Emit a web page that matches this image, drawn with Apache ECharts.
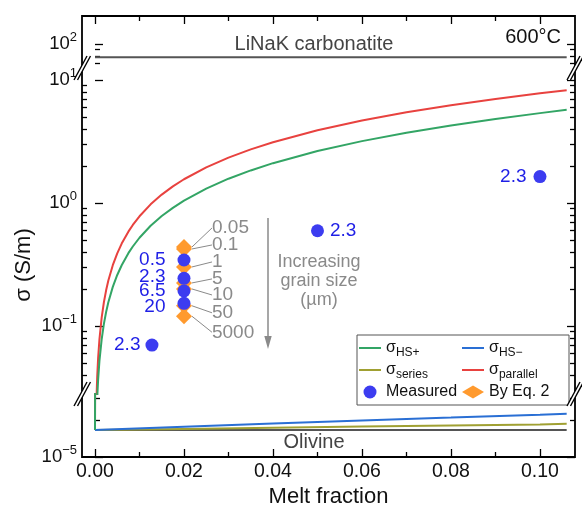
<!DOCTYPE html>
<html><head><meta charset="utf-8">
<script src="https://cdn.jsdelivr.net/npm/echarts@6/dist/echarts.min.js"></script>
<style>html,body{margin:0;padding:0;background:#fff}#c{width:582px;height:510px}</style>
</head><body><div id="c"></div>
<script>
// ---------------- data ----------------
const meltFraction   = [0, 0.0002, 0.0003, 0.0005, 0.0007, 0.001, 0.0015, 0.002, 0.0025, 0.003, 0.004, 0.005, 0.006, 0.0075, 0.0085, 0.01, 0.0125, 0.015, 0.0175, 0.02, 0.025, 0.03, 0.035, 0.04, 0.05, 0.06, 0.07, 0.08, 0.09, 0.10, 0.106];
const sigmaParallel  = [1.66e-5, 0.0156, 0.0234, 0.039, 0.0546, 0.078, 0.117, 0.156, 0.195, 0.234, 0.312, 0.39, 0.468, 0.585, 0.663, 0.78, 0.975, 1.17, 1.365, 1.56, 1.95, 2.34, 2.73, 3.12, 3.90, 4.68, 5.46, 6.24, 7.02, 7.80, 8.27];
const sigmaHSplus    = [1.66e-5, 0.0104, 0.0156, 0.026, 0.0364, 0.052, 0.078, 0.104, 0.130, 0.156, 0.208, 0.260, 0.312, 0.391, 0.443, 0.522, 0.653, 0.784, 0.913, 1.047, 1.31, 1.576, 1.84, 2.108, 2.644, 3.184, 3.727, 4.274, 4.825, 5.38, 5.72];
const meltFractionLow = [0, 0.02, 0.04, 0.06, 0.08, 0.10, 0.106];
const sigmaHSminus   = [1.66e-5, 1.76e-5, 1.87e-5, 1.98e-5, 2.09e-5, 2.21e-5, 2.25e-5];
const sigmaSeries    = [1.66e-5, 1.69e-5, 1.73e-5, 1.77e-5, 1.80e-5, 1.84e-5, 1.86e-5];
const refLineX       = [0, 0.106];
const sigmaOlivine   = [1.66e-5, 1.66e-5];
const sigmaCarbonatite = [78, 78];
const measuredX      = [0.0128, 0.02, 0.02, 0.02, 0.02, 0.05, 0.10];
const measuredSigma  = [0.070, 0.344, 0.244, 0.193, 0.153, 0.595, 1.64];
const measuredLabels = ['2.3', '0.5', '2.3', '6.5', '20', '2.3', '2.3'];
const eq2X           = [0.02, 0.02, 0.02, 0.02, 0.02, 0.02, 0.02];
const eq2Sigma       = [0.439, 0.423, 0.302, 0.224, 0.200, 0.146, 0.120];
const eq2Labels      = ['0.05', '0.1', '1', '5', '10', '50', '5000'];
const xTickValues    = [0, 0.02, 0.04, 0.06, 0.08, 0.10];
const xMinorValues   = [0.01, 0.03, 0.05, 0.07, 0.09];
const legendNames    = ['σHS+', 'σHS−', 'σseries', 'σparallel', 'Measured', 'By Eq. 2'];

// ---------------- styling / layout ----------------
const FONT = '"Liberation Sans", Arial, sans-serif';
const L = v => Math.log10(v);
const X_MIN = -0.00292, X_MAX = 0.10787;
const C = {hsp:'#33a565', hsm:'#2a6fd4', ser:'#a0a032', par:'#e8423f', dot:'#3c3cf0', dotText:'#1f1fe6', dia:'#ff9a2e', ref:'#555555', ann:'#8a8a8a'};
const measuredLabelPos = ['left', 'left', 'left', 'left', 'left', 'right', 'left'];
const measuredLabelGap = [5, 12, 12, 12, 12, 6, 7];
const measuredLabelDy  = [0, 0, -2, 0, 3, 0, 0];
const eq2LabelDy = [-19, -4, -5, -4, 6, 7, 16];

const gridBase = {left: 82, right: 7, outerBoundsMode: 'none', containLabel: false};
const grids = [
  Object.assign({}, gridBase, {top: 16, height: 52}),
  Object.assign({}, gridBase, {top: 68, height: 326}),
  Object.assign({}, gridBase, {top: 394, height: 63}),
  Object.assign({}, gridBase, {top: 16, height: 441, show: true, borderColor: '#000', borderWidth: 1.8, backgroundColor: 'rgba(0,0,0,0)', z: 5})
];
const yRanges = [[1.8049, 2.2276], [-1.5528, 1.0976], [-5, -4.4878]];
const inRange = (v, r) => v >= r[0] - 1e-9 && v <= r[1] + 1e-9;
const majorExp = [[2], [1, 0, -1], [-5]];
const minorVals = yRanges.map((r, g) => {
  const out = [];
  for (let e = -6; e <= 2; e++) for (let k = 2; k <= 9; k++) {
    const v = Math.log10(k) + e;
    if (inRange(v, r) && !(g === 1 && v < Math.log10(0.04) - 1e-9)) out.push(v);
  }
  return out;
});
const tickLine = {color: '#000', width: 1.3};
const supFmt = v => { const e = Math.round(v); return '{b|10}{s|' + (e < 0 ? '\u2212' + (-e) : e) + '}'; };

const yAxes = [];
for (let g = 0; g < 3; g++) {
  const base = {gridIndex: g, type: 'value', min: yRanges[g][0], max: yRanges[g][1], axisLine: {show: false}, splitLine: {show: false}};
  yAxes.push(Object.assign({}, base, {position: 'left',
    axisTick: {show: true, inside: true, length: 8, customValues: majorExp[g], lineStyle: tickLine},
    axisLabel: {show: true, customValues: majorExp[g], formatter: supFmt, margin: 5,
      rich: {b: {fontSize: 18.5, fontFamily: FONT, color: '#111', lineHeight: 26},
             s: {fontSize: 13, fontFamily: FONT, color: '#111', lineHeight: 14, verticalAlign: 'top'}}}}));
  yAxes.push(Object.assign({}, base, {position: 'left',
    axisTick: {show: true, inside: true, length: 5, customValues: minorVals[g], lineStyle: tickLine}, axisLabel: {show: false}}));
  yAxes.push(Object.assign({}, base, {position: 'right',
    axisTick: {show: true, inside: true, length: 8, customValues: majorExp[g], lineStyle: tickLine}, axisLabel: {show: false}}));
  yAxes.push(Object.assign({}, base, {position: 'right',
    axisTick: {show: true, inside: true, length: 5, customValues: minorVals[g], lineStyle: tickLine}, axisLabel: {show: false}}));
}
yAxes.push({gridIndex: 3, type: 'value', show: false, min: 0, max: 1});

const xBase = {type: 'value', min: X_MIN, max: X_MAX, axisLine: {show: false}, splitLine: {show: false}};
const xAxes = [
  Object.assign({}, xBase, {gridIndex: 0, position: 'top', axisTick: {show: true, inside: true, length: 8, customValues: xTickValues, lineStyle: tickLine}, axisLabel: {show: false}}),
  Object.assign({}, xBase, {gridIndex: 0, position: 'top', axisTick: {show: true, inside: true, length: 5, customValues: xMinorValues, lineStyle: tickLine}, axisLabel: {show: false}}),
  Object.assign({}, xBase, {gridIndex: 1, show: false}),
  Object.assign({}, xBase, {gridIndex: 2, position: 'bottom',
    axisTick: {show: true, inside: true, length: 8, customValues: xTickValues, lineStyle: tickLine},
    axisLabel: {show: true, customValues: xTickValues, formatter: v => v.toFixed(2), margin: 5, fontSize: 19.5, fontFamily: FONT, color: '#111'},
    name: 'Melt fraction', nameLocation: 'middle', nameGap: 29, nameTextStyle: {fontSize: 22, fontFamily: FONT, color: '#111'}}),
  Object.assign({}, xBase, {gridIndex: 2, position: 'bottom', axisTick: {show: true, inside: true, length: 5, customValues: xMinorValues, lineStyle: tickLine}, axisLabel: {show: false}}),
  Object.assign({}, xBase, {gridIndex: 3, show: false})
];
const xIdx = [0, 2, 3];
const yIdx = g => g * 4;

const pairs = (xs, ys) => xs.map((x, i) => [x, L(ys[i])]);
function lineSeries(name, g, xs, ys, color, z) {
  return {name, type: 'line', xAxisIndex: xIdx[g], yAxisIndex: yIdx(g), data: pairs(xs, ys),
    symbol: 'none', showSymbol: false, clip: true, z: z || 2, lineStyle: {color, width: 2}, itemStyle: {color}, animation: false};
}
const series = [
  lineSeries('Olivine', 2, refLineX, sigmaOlivine, C.ref),
  lineSeries('σseries', 2, meltFractionLow, sigmaSeries, C.ser),
  lineSeries('σHS−', 2, meltFractionLow, sigmaHSminus, C.hsm),
  lineSeries('σparallel', 2, meltFraction, sigmaParallel, C.par),
  lineSeries('σHS+', 2, meltFraction, sigmaHSplus, C.hsp, 3),
  lineSeries('σparallel', 1, meltFraction, sigmaParallel, C.par),
  lineSeries('σHS+', 1, meltFraction, sigmaHSplus, C.hsp, 3),
  lineSeries('LiNaK', 0, refLineX, sigmaCarbonatite, C.ref),
  {name: 'By Eq. 2', type: 'scatter', xAxisIndex: 2, yAxisIndex: yIdx(1), z: 4,
   data: pairs(eq2X, eq2Sigma), symbol: 'diamond', symbolSize: 16, itemStyle: {color: C.dia, opacity: 1},
   label: {show: true, position: 'right', formatter: p => eq2Labels[p.dataIndex], fontSize: 19, fontFamily: FONT, color: C.ann},
   labelLine: {show: true, lineStyle: {color: C.ann, width: 1}},
   labelLayout: p => ({x: p.rect.x + p.rect.width / 2 + 28, y: p.rect.y + p.rect.height / 2 + eq2LabelDy[p.dataIndex], align: 'left', verticalAlign: 'middle'})},
  {name: 'Measured', type: 'scatter', xAxisIndex: 2, yAxisIndex: yIdx(1), z: 5,
   data: pairs(measuredX, measuredSigma).map((v, i) => ({value: v, label: {position: measuredLabelPos[i], distance: measuredLabelGap[i], offset: [0, measuredLabelDy[i]]}})),
   symbol: 'circle', symbolSize: 13, itemStyle: {color: C.dot, opacity: 1},
   label: {show: true, formatter: p => measuredLabels[p.dataIndex], fontSize: 19, fontFamily: FONT, color: C.dotText}}
];

function breakMark(cx, cy) {
  return {type: 'group', z: 100, children: [
    {type: 'polygon', shape: {points: [[cx - 8, cy + 12], [cx + 5, cy - 12], [cx + 8.5, cy - 12], [cx - 4.5, cy + 12]]}, style: {fill: '#fff'}, z: 100},
    {type: 'line', shape: {x1: cx - 8, y1: cy + 12, x2: cx + 5, y2: cy - 12}, style: {stroke: '#000', lineWidth: 1.4}, z: 101},
    {type: 'line', shape: {x1: cx - 4.5, y1: cy + 12, x2: cx + 8.5, y2: cy - 12}, style: {stroke: '#000', lineWidth: 1.4}, z: 101}
  ]};
}
const txt = (text, x, y, size, fill, align, extra) => ({type: 'text', z: 50, x, y,
  style: Object.assign({text, fontSize: size, fontFamily: FONT, fill, align: align || 'center', verticalAlign: 'middle'}, extra || {})});

const graphic = [
  txt('LiNaK carbonatite', 314, 44, 20, '#444'),
  txt('600°C', 561, 37, 20, '#111', 'right'),
  txt('Olivine', 314, 442, 20, '#444'),
  txt('Increasing\ngrain size\n(µm)', 319, 281, 18, C.ann, 'center', {lineHeight: 19}),
  {type: 'group', z: 50, children: [
    {type: 'line', shape: {x1: 268, y1: 218, x2: 268, y2: 338}, style: {stroke: C.ann, lineWidth: 1.5}},
    {type: 'polygon', shape: {points: [[264.3, 336], [271.7, 336], [268, 349]]}, style: {fill: C.ann}}
  ]},
  {type: 'text', z: 50, x: 24, y: 265, rotation: Math.PI / 2,
   style: {text: 'σ (S/m)', fontSize: 22, fontFamily: FONT, fill: '#111', align: 'center', verticalAlign: 'middle'}},
  breakMark(82, 68), breakMark(82, 394), breakMark(575, 68), breakMark(575, 394)
];

const lineIcon = 'path://M0,0h22v2h-22z';
const legendIcons = ['lineIcon', 'lineIcon', 'lineIcon', 'lineIcon', 'circle', 'diamond'];
const legendFmt = n => n.charAt(0) === 'σ' ? 'σ{sub|' + n.slice(1) + '}' : n;
const option = {
  animation: false,
  backgroundColor: '#fff',
  grid: grids, xAxis: xAxes, yAxis: yAxes, series, graphic,
  legend: {data: legendNames.map((n, i) => ({name: n, icon: legendIcons[i] === 'lineIcon' ? lineIcon : legendIcons[i]})),
    left: 357, top: 335, width: 216, orient: 'horizontal',
    padding: [2, 4, 2, 2], itemGap: 0, itemWidth: 22, itemHeight: 13,
    borderColor: '#555', borderWidth: 1, backgroundColor: '#fff', selectedMode: false,
    formatter: legendFmt,
    textStyle: {fontSize: 16, fontFamily: FONT, color: '#111', width: 76, lineHeight: 22,
      rich: {sub: {fontSize: 12, fontFamily: FONT, color: '#111', lineHeight: 10, verticalAlign: 'bottom'}}}}
};
const chart = echarts.init(document.getElementById('c'), null, {renderer: 'canvas'});
chart.setOption(option);
</script></body></html>
